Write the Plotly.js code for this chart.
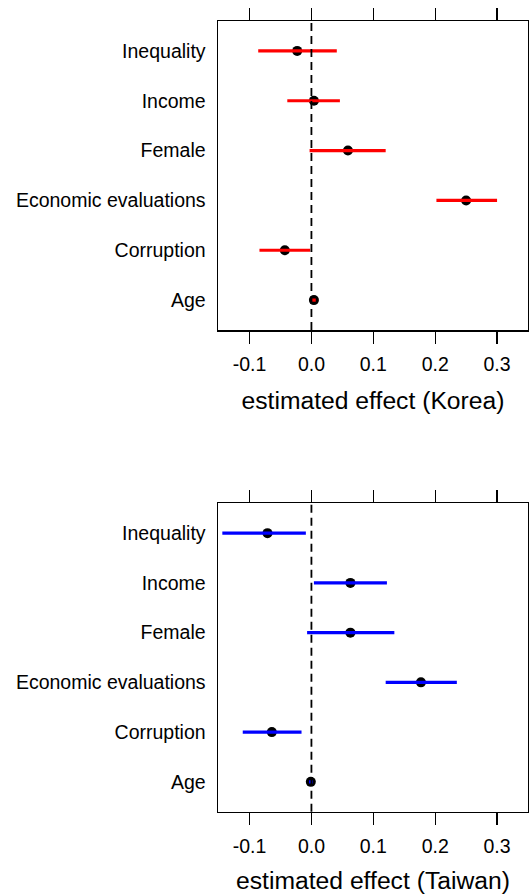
<!DOCTYPE html>
<html>
<head>
<meta charset="utf-8">
<script src="https://cdn.plot.ly/plotly-3.0.1.min.js"></script>
<style>html,body{margin:0;padding:0;background:#fff;}#chart{width:529px;height:894px;}</style>
</head>
<body>
<div id="chart"></div>
<script>
// Categories, bottom to top
const categories = ["Age", "Corruption", "Economic evaluations", "Female", "Income", "Inequality"];

// Korea estimates and 95% intervals
const koreaEst  = [0.004, -0.043, 0.250, 0.059, 0.004, -0.023];
const koreaLow  = [0.001, -0.084, 0.202, -0.003, -0.039, -0.086];
const koreaHigh = [0.007, -0.002, 0.300, 0.120, 0.046, 0.041];

// Taiwan estimates and 95% intervals
const taiwanEst  = [-0.001, -0.064, 0.177, 0.063, 0.063, -0.071];
const taiwanLow  = [-0.004, -0.111, 0.120, -0.007, 0.004, -0.144];
const taiwanHigh = [0.002, -0.016, 0.235, 0.134, 0.122, -0.009];

const xTicks = [-0.1, 0.0, 0.1, 0.2, 0.3];
const xTickText = ["-0.1", "0.0", "0.1", "0.2", "0.3"];

const FONT = "Liberation Sans, Arial, sans-serif";

function segs(lo, hi) {
  const xs = [], ys = [];
  for (let i = 0; i < categories.length; i++) {
    xs.push(lo[i], hi[i], null);
    ys.push(categories[i], categories[i], null);
  }
  return {xs, ys};
}

function panel(est, lo, hi, color, xa, ya) {
  const s = segs(lo, hi);
  return [
    {type: "scatter", mode: "markers", x: est, y: categories, xaxis: xa, yaxis: ya,
     marker: {color: "black", size: 10}, hoverinfo: "x+y", showlegend: false},
    {type: "scatter", mode: "lines", x: s.xs, y: s.ys, xaxis: xa, yaxis: ya,
     line: {color: color, width: 3.2}, hoverinfo: "skip", showlegend: false}
  ];
}

const data = [
  ...panel(koreaEst, koreaLow, koreaHigh, "#FF0000", "x", "y"),
  ...panel(taiwanEst, taiwanLow, taiwanHigh, "#0000FF", "x2", "y2")
];

function xaxis(anchor, title) {
  return {
    anchor: anchor, domain: [0, 1], range: [-0.151, 0.35],
    tickvals: xTicks, ticktext: xTickText,
    ticks: "outside", ticklen: 12, tickwidth: 1.3, tickcolor: "black",
    ticklabelstandoff: 4,
    showline: true, linecolor: "black", linewidth: 1.5, mirror: "ticks",
    showgrid: false, zeroline: false,
    tickfont: {family: FONT, size: 19.5, color: "black"},
    title: {text: title, font: {family: FONT, size: 24.7, color: "black"}, standoff: 18}
  };
}
function yaxis(domain) {
  return {
    domain: domain, type: "category", categoryorder: "array", categoryarray: categories,
    range: [-0.6, 5.6],
    ticks: "outside", ticklen: 7, tickcolor: "rgba(0,0,0,0)",
    showline: true, linecolor: "black", linewidth: 1.5, mirror: true,
    showgrid: false, zeroline: false,
    tickfont: {family: FONT, size: 19.5, color: "black"}
  };
}

const layout = {
  width: 529, height: 894,
  margin: {l: 218, r: 1, t: 0, b: 0},
  paper_bgcolor: "white", plot_bgcolor: "white",
  font: {family: FONT, color: "black"},
  xaxis: xaxis("y", "estimated effect (Korea)"),
  yaxis: yaxis([1 - 330/894, 1 - 21/894]),
  xaxis2: xaxis("y2", "estimated effect (Taiwan)"),
  yaxis2: yaxis([1 - 811.7/894, 1 - 503.3/894]),
  shapes: [
    {type: "line", xref: "x", yref: "y domain", x0: 0, x1: 0, y0: 0, y1: 1,
     line: {color: "black", width: 1.8, dash: "8px,5px"}},
    {type: "line", xref: "x2", yref: "y2 domain", x0: 0, x1: 0, y0: 0, y1: 1,
     line: {color: "black", width: 1.8, dash: "8px,5px"}}
  ],
  showlegend: false
};

Plotly.newPlot("chart", data, layout, {displayModeBar: false, staticPlot: true});
</script>
</body>
</html>
